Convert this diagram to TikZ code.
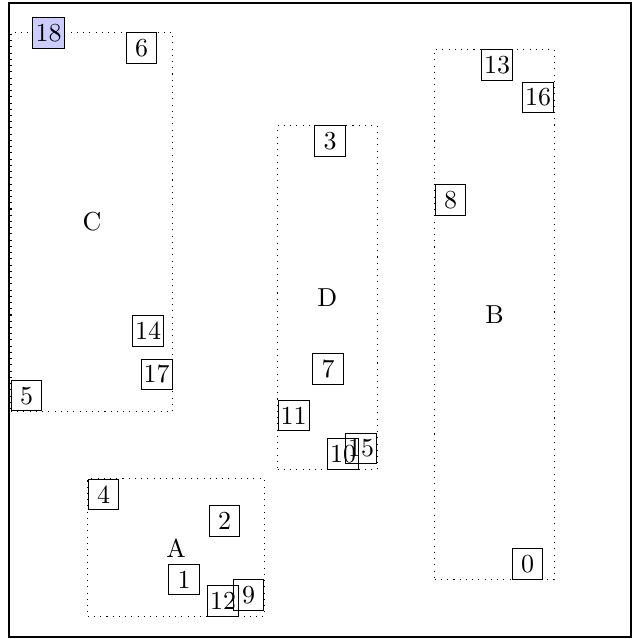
\documentclass[tikz,border=0pt]{standalone}
\usepackage{tikz}
\usetikzlibrary{fit,backgrounds}

\begin{document}
\begin{tikzpicture}[
    x=0.385pt, y=-0.385pt,
    item/.style={draw, thin, minimum size=11.7pt, inner sep=1pt},
    cluster/.style={draw, dotted, inner sep=0pt},
]
\useasboundingbox (0,0) rectangle (634,639);
\draw[line width=0.8pt] (9,3) rectangle (631,637);

% cluster C
\node[item, fill=blue!20] (n18) at (48.5,33) {18};
\node[item] (n6) at (141.5,48) {6};
\node[item] (n14) at (148,331) {14};
\node[item] (n17) at (156.7,374.5) {17};
\node[item] (n5) at (26.7,395.7) {5};
% cluster D
\node[item] (n3) at (330,141) {3};
\node[item] (n7) at (328,369) {7};
\node[item] (n11) at (293.7,415.5) {11};
\node[item] (n10) at (343,454) {10};
\node[item] (n15) at (361,448.5) {15};
% cluster B
\node[item] (n13) at (497,65) {13};
\node[item] (n16) at (538,97.5) {16};
\node[item] (n8) at (450.5,200) {8};
\node[item] (n0) at (527.5,564) {0};
% cluster A
\node[item] (n4) at (103.5,494.5) {4};
\node[item] (n2) at (224.5,521) {2};
\node[item] (n1) at (184,579.5) {1};
\node[item] (n12) at (223,601) {12};
\node[item] (n9) at (248.5,595) {9};

\begin{scope}[on background layer]
\node[cluster, fit=(n6)(n14)(n17)(n5), label=center:C] (C) {};
\node[cluster, fit=(n3)(n7)(n11)(n10)(n15), label=center:D] (D) {};
\node[cluster, fit=(n13)(n16)(n8)(n0), label=center:B] (B) {};
\node[cluster, fit=(n4)(n2)(n1)(n12)(n9), label=center:A] (A) {};
\end{scope}
\end{tikzpicture}
\end{document}
